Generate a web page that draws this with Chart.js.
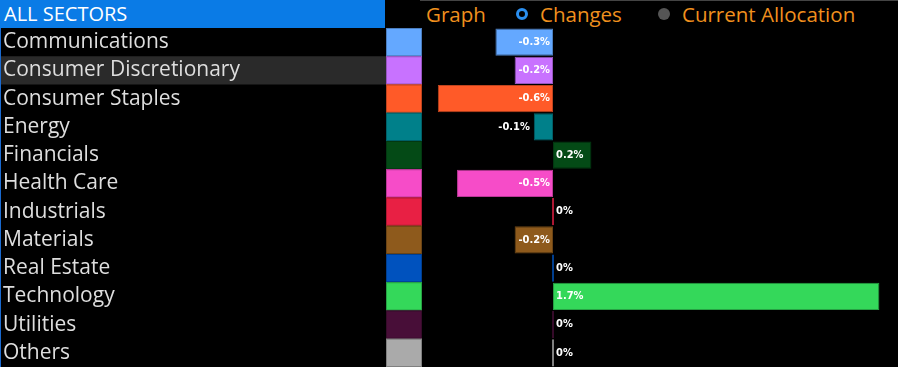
<!DOCTYPE html>
<html>
<head>
<meta charset="utf-8">
<script src="https://cdn.jsdelivr.net/npm/chart.js@4"></script>
<style>
  html, body { margin: 0; padding: 0; background: #000; }
  body { width: 898px; height: 367px; position: relative; overflow: hidden; font-family: "Open Sans", sans-serif; }
  #header { position: absolute; left: 0; top: 0; width: 898px; height: 28px; }
  #title { position: absolute; left: 0; top: 0; width: 385px; height: 28px; background: #0a7be6; color: #fff; font-size: 20px; line-height: 28px; padding-left: 4px; box-sizing: border-box; }
  #topline { position: absolute; left: 420px; top: 0; width: 478px; height: 1px; background: #444; }
  .opt { position: absolute; top: 0; color: #f0901e; font-size: 20.5px; line-height: 28px; }
  .radio { position: absolute; top: 8px; width: 12px; height: 12px; border-radius: 50%; box-sizing: border-box; }
  #leftline { position: absolute; left: 0; top: 28px; width: 1px; height: 339px; background: #1a6ad0; }
  #wrap { position: absolute; left: 0; top: 28px; width: 898px; height: 339px; }
</style>
</head>
<body>
<div id="header">
  <div id="title">ALL SECTORS</div>
  <div id="topline"></div>
  <div class="opt" style="left:426px">Graph</div>
  <div class="radio" style="left:516px; border:3px solid #2a8ff0; background:#000"></div>
  <div class="opt" style="left:540px">Changes</div>
  <div class="radio" style="left:658px; background:#555"></div>
  <div class="opt" style="left:682px">Current Allocation</div>
</div>
<div id="wrap"><canvas id="sector-chart"></canvas></div>
<div id="leftline"></div>
<script>
const sectors = [
  "Communications",
  "Consumer Discretionary",
  "Consumer Staples",
  "Energy",
  "Financials",
  "Health Care",
  "Industrials",
  "Materials",
  "Real Estate",
  "Technology",
  "Utilities",
  "Others",
];
const changes = [-0.3, -0.2, -0.6, -0.1, 0.2, -0.5, 0, -0.2, 0, 1.7, 0, 0];
const sectorColors = [
  "#64a8ff",
  "#c872ff",
  "#ff5a28",
  "#00808a",
  "#044a16",
  "#f64cc8",
  "#e82044",
  "#8e5a1c",
  "#0052be",
  "#34d85a",
  "#480e38",
  "#aaaaaa",
];
const highlightRow = 1;

function darker(hex) {
  const n = parseInt(hex.slice(1), 16);
  const r = Math.round(((n >> 16) & 255) * 0.75);
  const g = Math.round(((n >> 8) & 255) * 0.75);
  const b = Math.round((n & 255) * 0.75);
  return "rgb(" + r + "," + g + "," + b + ")";
}

function pctLabel(v) {
  return v === 0 ? "0%" : v.toFixed(1) + "%";
}

// row highlight + colour swatches + value labels
const rowsPlugin = {
  id: "rows",
  beforeDraw(chart) {
    const ctx = chart.ctx;
    const y = chart.scales.y;
    const h = y.height / sectors.length;
    ctx.save();
    const yc = y.getPixelForValue(highlightRow);
    ctx.fillStyle = "#2a2a2a";
    ctx.fillRect(0, yc - h / 2, 386, h);
    sectors.forEach((s, i) => {
      const c = y.getPixelForValue(i);
      ctx.fillStyle = sectorColors[i];
      ctx.fillRect(386, c - h / 2, 36, h);
      ctx.strokeStyle = darker(sectorColors[i]);
      ctx.lineWidth = 1;
      ctx.strokeRect(386.5, c - h / 2 + 0.5, 35, h - 1);
    });
    ctx.restore();
  },
  afterDatasetsDraw(chart) {
    const ctx = chart.ctx;
    const zero = chart.scales.x.getPixelForValue(0);
    const meta = chart.getDatasetMeta(0);
    ctx.save();
    ctx.font = "bold 11px 'DejaVu Sans Condensed'";
    ctx.fillStyle = "#ffffff";
    ctx.textBaseline = "middle";
    meta.data.forEach((bar, i) => {
      const v = changes[i];
      const txt = pctLabel(v);
      if (v >= 0) {
        ctx.textAlign = "left";
        ctx.fillText(txt, zero + 3, bar.y);
      } else {
        ctx.textAlign = "right";
        const w = ctx.measureText(txt).width;
        if (zero - bar.x > w + 6) ctx.fillText(txt, zero - 3, bar.y);
        else ctx.fillText(txt, bar.x - 4, bar.y);
      }
    });
    ctx.restore();
  },
};

const data = {
  labels: sectors,
  datasets: [
    {
      data: changes,
      backgroundColor: sectorColors,
      borderColor: sectorColors.map(darker),
      borderWidth: 1,
      borderSkipped: false,
      minBarLength: 2,
      barPercentage: 0.97,
      categoryPercentage: 1,
    },
  ],
};

const config = {
  type: "bar",
  data: data,
  plugins: [rowsPlugin],
  options: {
    indexAxis: "y",
    responsive: true,
    maintainAspectRatio: false,
    animation: false,
    layout: { padding: { left: 3, right: 0, top: 0, bottom: 0 } },
    scales: {
      x: {
        display: false,
        min: -0.87,
        max: 1.797,
      },
      y: {
        afterFit(scale) {
          scale.width = 383;
          scale.paddingTop = 0;
          scale.paddingBottom = 0;
        },
        grid: { display: false },
        border: { display: false },
        ticks: {
          autoSkip: false,
          crossAlign: "far",
          padding: 0,
          color: "#dedede",
          font: { family: "Open Sans", size: 21 },
        },
      },
    },
    plugins: {
      legend: { display: false },
      tooltip: { enabled: false },
    },
  },
};

const myChart = new Chart(document.getElementById("sector-chart"), config);
</script>
</body>
</html>
